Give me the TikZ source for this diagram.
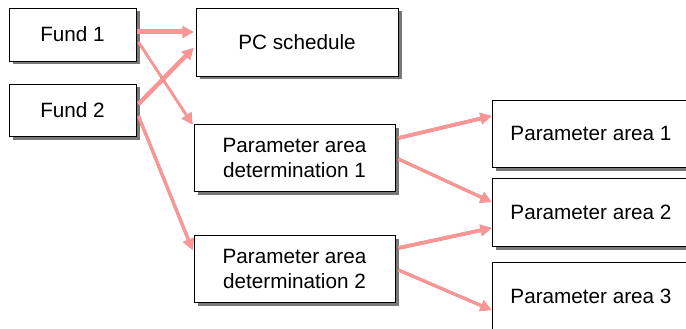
\documentclass[tikz,border=0pt]{standalone}
\usepackage{fontspec}
\setmainfont{Liberation Sans}
\usetikzlibrary{calc,arrows.meta}
\definecolor{arrowpink}{RGB}{250,150,150}
\definecolor{arrowdark}{RGB}{205,110,110}
\definecolor{shadowgray}{RGB}{120,120,120}
\begin{document}
\begin{tikzpicture}[x=1pt,y=-1pt,
  box/.style={draw=black, line width=0.9pt, fill=white, inner sep=0pt,
    font=\fontsize{20.7}{25}\selectfont, align=center},
  shadowbox/.style={fill=shadowgray, inner sep=0pt, draw=none},
  conn/.style={draw=arrowpink, line width=#1,
    -{Triangle[width=11pt,length=11pt]}},
  connshade/.style={draw=arrowdark, line width=#1,
    -{Triangle[width=11pt,length=11pt]}, shift={(0.9,0.9)}},
  conn/.default=3pt, connshade/.default=3pt]
\useasboundingbox (0,0) rectangle (686,329);
\clip (0,0) rectangle (686,329);
\fill[white] (0,0) rectangle (686,329);
% shadows
\node[shadowbox, minimum width=127pt, minimum height=53pt] (f1s) at (76,38) {};
\node[shadowbox, minimum width=127pt, minimum height=52pt] (f2s) at (76,113.5) {};
\node[shadowbox, minimum width=202pt, minimum height=68pt] (pcs) at (300.5,45.5) {};
\node[shadowbox, minimum width=201pt, minimum height=67pt] (pd1s) at (298,161) {};
\node[shadowbox, minimum width=201pt, minimum height=67pt] (pd2s) at (298,272) {};
\node[shadowbox, minimum width=198pt, minimum height=67pt] (pa1s) at (594.5,137) {};
\node[shadowbox, minimum width=198pt, minimum height=68pt] (pa2s) at (594.5,215.5) {};
\node[shadowbox, minimum width=198pt, minimum height=68pt] (pa3s) at (594.5,299.5) {};
% boxes
\node[box, minimum width=127pt, minimum height=53pt] (f1) at (72.5,34.5) {Fund 1};
\node[box, minimum width=127pt, minimum height=52pt] (f2) at (72.5,110) {Fund 2};
\node[box, minimum width=202pt, minimum height=68pt] (pc) at (297,42) {PC schedule};
\node[box, minimum width=201pt, minimum height=67pt] (pd1) at (294.5,157.5) {Parameter area\\determination 1};
\node[box, minimum width=201pt, minimum height=67pt] (pd2) at (294.5,268.5) {Parameter area\\determination 2};
\node[box, minimum width=198pt, minimum height=67pt] (pa1) at (591,133.5) {Parameter area 1};
\node[box, minimum width=198pt, minimum height=68pt] (pa2) at (591,212) {Parameter area 2};
\node[box, minimum width=198pt, minimum height=68pt] (pa3) at (591,296) {Parameter area 3};
% connectors: dark underlay then pink
\draw[connshade=5pt] ($(f1.east)+(1,-2.5)$) -- ($(pc.west)+(-2,-10)$);
\draw[conn=5pt] ($(f1.east)+(1,-2.5)$) -- ($(pc.west)+(-2,-10)$);
\draw[connshade=2.5pt] ($(f1.east)+(2,7.5)$) -- ($(pd1.north west)+(-1,1)$);
\draw[conn=2.5pt] ($(f1.east)+(2,7.5)$) -- ($(pd1.north west)+(-1,1)$);
\draw[connshade=4pt] ($(f2.east)+(2,-6)$) -- ($(pc.west)+(-2,6)$);
\draw[conn=4pt] ($(f2.east)+(2,-6)$) -- ($(pc.west)+(-2,6)$);
\draw[connshade=3pt] ($(f2.east)+(2,6)$) -- ($(pd2.west)+(-1,-18.5)$);
\draw[conn=3pt] ($(f2.east)+(2,6)$) -- ($(pd2.west)+(-1,-18.5)$);
\draw[connshade=3.5pt] ($(pd1.east)+(3,-19.5)$) -- ($(pa1.west)+(0,-17.5)$);
\draw[conn=3.5pt] ($(pd1.east)+(3,-19.5)$) -- ($(pa1.west)+(0,-17.5)$);
\draw[connshade=3pt] ($(pd1.east)+(3,1.5)$) -- ($(pa2.west)+(0,-10)$);
\draw[conn=3pt] ($(pd1.east)+(3,1.5)$) -- ($(pa2.west)+(0,-10)$);
\draw[connshade=3.5pt] ($(pd2.east)+(3,-20.5)$) -- ($(pa2.west)+(0,16)$);
\draw[conn=3.5pt] ($(pd2.east)+(3,-20.5)$) -- ($(pa2.west)+(0,16)$);
\draw[connshade=3pt] ($(pd2.east)+(3,1.5)$) -- ($(pa3.west)+(0,14)$);
\draw[conn=3pt] ($(pd2.east)+(3,1.5)$) -- ($(pa3.west)+(0,14)$);
\end{tikzpicture}
\end{document}
